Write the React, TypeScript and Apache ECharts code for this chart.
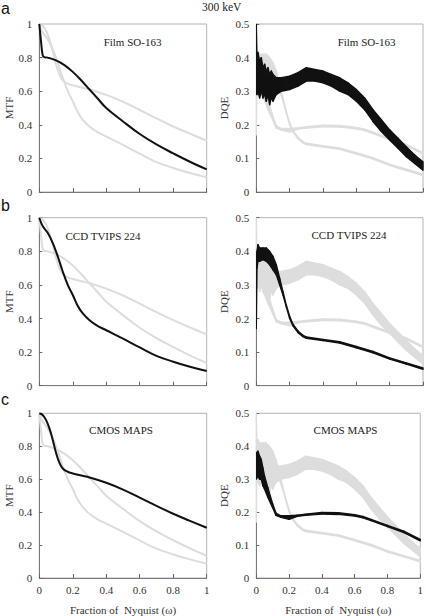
import { useEffect, useRef } from "react";
import * as echarts from "echarts";

// ---------- data ----------
// MTF curves
const FILM_MTF_X = [0, 0.01, 0.02, 0.03, 0.05, 0.1, 0.15, 0.2, 0.25, 0.3, 0.35, 0.4, 0.5, 0.6, 0.7, 0.8, 0.9, 1];
const FILM_MTF_Y = [1, 0.9, 0.815, 0.803, 0.8, 0.783, 0.755, 0.715, 0.665, 0.61, 0.555, 0.5, 0.42, 0.345, 0.283, 0.23, 0.18, 0.135];

const CCD_MTF_X = [0, 0.02, 0.05, 0.08, 0.11, 0.14, 0.17, 0.2, 0.23, 0.26, 0.3, 0.35, 0.4, 0.5, 0.6, 0.7, 0.8, 0.9, 1];
const CCD_MTF_Y = [1, 0.95, 0.91, 0.85, 0.77, 0.68, 0.6, 0.54, 0.475, 0.43, 0.39, 0.355, 0.33, 0.28, 0.228, 0.178, 0.143, 0.113, 0.088];

const CMOS_MTF_X = [0, 0.02, 0.04, 0.06, 0.08, 0.1, 0.12, 0.14, 0.17, 0.2, 0.25, 0.3, 0.4, 0.5, 0.6, 0.7, 0.8, 0.9, 1];
const CMOS_MTF_Y = [1, 0.99, 0.96, 0.91, 0.84, 0.76, 0.7, 0.665, 0.645, 0.635, 0.622, 0.61, 0.578, 0.537, 0.488, 0.438, 0.39, 0.347, 0.305];

// DQE curves (noisy: lower / upper envelope of the trace)
const FILM_DQE_X = [0, 0.004, 0.01, 0.02, 0.03, 0.04, 0.05, 0.06, 0.07, 0.08, 0.09, 0.1, 0.12, 0.15, 0.2, 0.25, 0.3, 0.35, 0.4, 0.45, 0.5, 0.55, 0.6, 0.65, 0.7, 0.75, 0.8, 0.85, 0.9, 0.95, 1];
const FILM_DQE_LO = [0.3, 0.29, 0.3, 0.28, 0.3, 0.28, 0.29, 0.27, 0.29, 0.26, 0.28, 0.27, 0.29, 0.3, 0.305, 0.315, 0.33, 0.33, 0.325, 0.315, 0.3, 0.29, 0.27, 0.245, 0.21, 0.18, 0.155, 0.13, 0.105, 0.085, 0.065];
const FILM_DQE_HI = [0.5, 0.4, 0.415, 0.39, 0.4, 0.37, 0.38, 0.36, 0.37, 0.35, 0.36, 0.35, 0.34, 0.34, 0.345, 0.355, 0.37, 0.365, 0.36, 0.35, 0.34, 0.325, 0.305, 0.28, 0.245, 0.215, 0.185, 0.16, 0.135, 0.11, 0.09];

const CCD_DQE_X = [0, 0.004, 0.01, 0.02, 0.04, 0.06, 0.08, 0.1, 0.12, 0.14, 0.16, 0.18, 0.2, 0.22, 0.25, 0.28, 0.3, 0.4, 0.5, 0.6, 0.7, 0.8, 0.9, 1];
const CCD_DQE_LO = [0.17, 0.35, 0.37, 0.37, 0.375, 0.37, 0.36, 0.345, 0.33, 0.3, 0.27, 0.235, 0.2, 0.178, 0.158, 0.146, 0.141, 0.134, 0.127, 0.113, 0.098, 0.079, 0.064, 0.049];
const CCD_DQE_HI = [0.38, 0.4, 0.42, 0.41, 0.41, 0.41, 0.4, 0.385, 0.36, 0.32, 0.28, 0.24, 0.207, 0.183, 0.163, 0.15, 0.145, 0.138, 0.131, 0.117, 0.102, 0.083, 0.068, 0.053];

const CMOS_DQE_X = [0, 0.01, 0.02, 0.03, 0.04, 0.05, 0.07, 0.1, 0.12, 0.15, 0.2, 0.25, 0.3, 0.4, 0.5, 0.6, 0.65, 0.7, 0.8, 0.9, 1];
const CMOS_DQE_LO = [0.3, 0.31, 0.3, 0.3, 0.28, 0.27, 0.245, 0.213, 0.19, 0.184, 0.178, 0.187, 0.19, 0.194, 0.193, 0.188, 0.183, 0.174, 0.156, 0.138, 0.113];
const CMOS_DQE_HI = [0.38, 0.385, 0.37, 0.36, 0.335, 0.31, 0.275, 0.225, 0.197, 0.189, 0.189, 0.191, 0.194, 0.199, 0.198, 0.192, 0.187, 0.178, 0.16, 0.142, 0.117];

const DETECTORS = ["Film SO-163", "CCD TVIPS 224", "CMOS MAPS"];
const ROW_LETTERS = ["a", "b", "c"];
const TITLE = "300 keV";
const X_NAME = "Fraction of  Nyquist (\u03c9)";

// ---------- styling ----------
const SERIF = "'Liberation Serif', 'Times New Roman', serif";
const SANS = "'Liberation Sans', Arial, sans-serif";
const BLACK = "#111111";
const GRAY = "#dddddd";

const ROW_TOP = [24, 217.7, 413.3];
const ROW_H = [168, 168, 166.7];
const COL_LEFT = [39.3, 256.3];
const COL_W = [167.4, 166.7];

const pairs = (xs: number[], ys: number[]) => xs.map((x, i) => [x, ys[i]]);

function lineSeries(idx: number, xs: number[], ys: number[], color: string, z: number) {
  return {
    type: "line",
    xAxisIndex: idx,
    yAxisIndex: idx,
    data: pairs(xs, ys),
    symbol: "none",
    smooth: 0.4,
    lineStyle: { color, width: 2 },
    z,
    silent: true,
  };
}

// Noisy trace drawn as a filled band between its lower and upper envelopes
function bandSeries(idx: number, xs: number[], lo: number[], hi: number[], color: string, z: number) {
  return {
    type: "custom",
    xAxisIndex: idx,
    yAxisIndex: idx,
    data: xs.map((x, i) => [x, lo[i], hi[i]]),
    encode: { x: 0, y: [1, 2] },
    clip: true,
    z,
    silent: true,
    renderItem: (params: any, api: any) => {
      const i = params.dataIndex;
      if (i >= xs.length - 1) return null;
      const pts = [
        api.coord([xs[i], lo[i]]),
        api.coord([xs[i + 1], lo[i + 1]]),
        api.coord([xs[i + 1], hi[i + 1]]),
        api.coord([xs[i], hi[i]]),
      ];
      return {
        type: "polygon",
        shape: { points: pts },
        style: { fill: color, stroke: color, lineWidth: 1.4, lineJoin: "round" },
      };
    },
  };
}

export default function App() {
  const ref = useRef<HTMLDivElement>(null);

  useEffect(() => {
    if (!ref.current) return;
    const chart = echarts.init(ref.current, undefined, { renderer: "svg" });

    const grids: any[] = [];
    const xAxes: any[] = [];
    const yAxes: any[] = [];
    for (let r = 0; r < 3; r++) {
      for (let c = 0; c < 2; c++) {
        const idx = r * 2 + c;
        grids.push({
          left: COL_LEFT[c],
          width: COL_W[c],
          top: ROW_TOP[r],
          height: ROW_H[r],
          show: true,
          borderColor: "#b4b4b4",
          borderWidth: 1,
          backgroundColor: "transparent",
        });
        xAxes.push({
          type: "value",
          gridIndex: idx,
          min: 0,
          max: 1,
          interval: 0.2,
          name: r === 2 ? X_NAME : "",
          nameLocation: "middle",
          nameGap: 26,
          nameTextStyle: { fontFamily: SERIF, fontSize: 11, color: "#333" },
          axisLine: { show: true, onZero: false, lineStyle: { color: "#7a7a7a", width: 1 } },
          axisTick: { show: true, inside: true, length: 4, lineStyle: { color: "#666" } },
          axisLabel: { show: r === 2, fontFamily: SERIF, fontSize: 11, color: "#333", margin: 6 },
          splitLine: { show: false },
        });
        yAxes.push({
          type: "value",
          gridIndex: idx,
          min: 0,
          max: c === 0 ? 1 : 0.5,
          interval: c === 0 ? 0.2 : 0.1,
          name: c === 0 ? "MTF" : "DQE",
          nameLocation: "middle",
          nameGap: c === 0 ? 25 : 27,
          nameTextStyle: { fontFamily: SERIF, fontSize: 11, color: "#333" },
          axisLine: { show: true, onZero: false, lineStyle: { color: "#7a7a7a", width: 1 } },
          axisTick: { show: true, inside: true, length: 3, lineStyle: { color: "#666" } },
          axisLabel: { fontFamily: SERIF, fontSize: 11, color: "#333", margin: 7 },
          splitLine: { show: false },
        });
      }
    }

    const series: any[] = [
      // row a
      lineSeries(0, CCD_MTF_X, CCD_MTF_Y, GRAY, 2),
      lineSeries(0, CMOS_MTF_X, CMOS_MTF_Y, GRAY, 2),
      lineSeries(0, FILM_MTF_X, FILM_MTF_Y, BLACK, 3),
      bandSeries(1, CCD_DQE_X, CCD_DQE_LO, CCD_DQE_HI, GRAY, 2),
      bandSeries(1, CMOS_DQE_X, CMOS_DQE_LO, CMOS_DQE_HI, GRAY, 2),
      bandSeries(1, FILM_DQE_X, FILM_DQE_LO, FILM_DQE_HI, BLACK, 3),
      // row b
      lineSeries(2, FILM_MTF_X, FILM_MTF_Y, GRAY, 2),
      lineSeries(2, CMOS_MTF_X, CMOS_MTF_Y, GRAY, 2),
      lineSeries(2, CCD_MTF_X, CCD_MTF_Y, BLACK, 3),
      bandSeries(3, FILM_DQE_X, FILM_DQE_LO, FILM_DQE_HI, GRAY, 2),
      bandSeries(3, CMOS_DQE_X, CMOS_DQE_LO, CMOS_DQE_HI, GRAY, 2),
      bandSeries(3, CCD_DQE_X, CCD_DQE_LO, CCD_DQE_HI, BLACK, 3),
      // row c
      lineSeries(4, FILM_MTF_X, FILM_MTF_Y, GRAY, 2),
      lineSeries(4, CCD_MTF_X, CCD_MTF_Y, GRAY, 2),
      lineSeries(4, CMOS_MTF_X, CMOS_MTF_Y, BLACK, 3),
      bandSeries(5, FILM_DQE_X, FILM_DQE_LO, FILM_DQE_HI, GRAY, 2),
      bandSeries(5, CCD_DQE_X, CCD_DQE_LO, CCD_DQE_HI, GRAY, 2),
      bandSeries(5, CMOS_DQE_X, CMOS_DQE_LO, CMOS_DQE_HI, BLACK, 3),
    ];

    const labelPos = [
      [132.5, 42, 366.5, 42],
      [103, 236, 349, 235],
      [121, 430, 345.5, 430],
    ];
    const letterY = [16, 213.7, 407.4];

    const graphic: any[] = [
      {
        type: "text",
        x: 221.7,
        y: 7,
        style: { text: TITLE, fill: "#222", font: `11.5px ${SERIF}`, textAlign: "center", textVerticalAlign: "middle" },
      },
    ];
    for (let r = 0; r < 3; r++) {
      graphic.push({
        type: "text",
        x: 1,
        y: letterY[r],
        style: { text: ROW_LETTERS[r], fill: "#111", font: `16px ${SANS}`, textAlign: "left", textVerticalAlign: "bottom" },
      });
      const p = labelPos[r];
      graphic.push({
        type: "text",
        x: p[0],
        y: p[1],
        style: { text: DETECTORS[r], fill: "#222", font: `11px ${SERIF}`, textAlign: "center", textVerticalAlign: "middle" },
      });
      graphic.push({
        type: "text",
        x: p[2],
        y: p[3],
        style: { text: DETECTORS[r], fill: "#222", font: `11px ${SERIF}`, textAlign: "center", textVerticalAlign: "middle" },
      });
    }

    chart.setOption({
      animation: false,
      backgroundColor: "#ffffff",
      grid: grids,
      xAxis: xAxes,
      yAxis: yAxes,
      series,
      graphic,
    });

    return () => chart.dispose();
  }, []);

  return (
    <div
      ref={ref}
      style={{ position: "absolute", left: 0, top: 0, width: 426, height: 616 }}
    />
  );
}
